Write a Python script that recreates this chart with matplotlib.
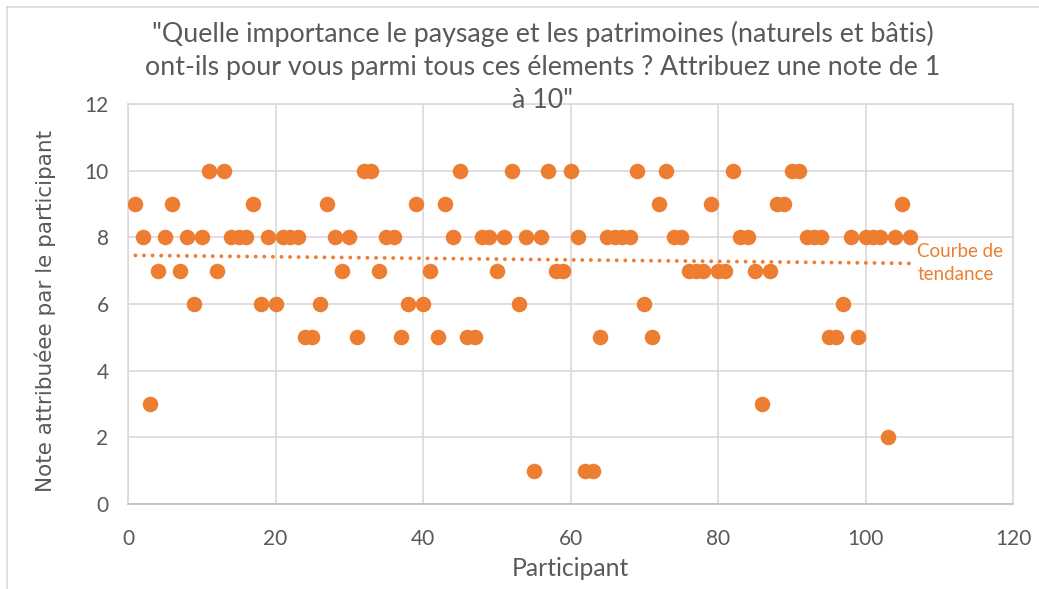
import numpy as np
import matplotlib
matplotlib.use("Agg")
import matplotlib.pyplot as plt
from matplotlib.lines import Line2D

participants = list(range(1, 107))
notes = [9, 8, 3, 7, 8, 9, 7, 8, 6, 8,
         10, 7, 10, 8, 8, 8, 9, 6, 8, 6,
         8, 8, 8, 5, 5, 6, 9, 8, 7, 8,
         5, 10, 10, 7, 8, 8, 5, 6, 9, 6,
         7, 5, 9, 8, 10, 5, 5, 8, 8, 7,
         8, 10, 6, 8, 1, 8, 10, 7, 7, 10,
         8, 1, 1, 5, 8, 8, 8, 8, 10, 6,
         5, 9, 10, 8, 8, 7, 7, 7, 9, 7,
         7, 10, 8, 8, 7, 3, 7, 9, 9, 10,
         10, 8, 8, 8, 5, 5, 6, 8, 5, 8,
         8, 8, 2, 8, 9, 8]

title = "\"Quelle importance le paysage et les patrimoines (naturels et bâtis)\nont-ils pour vous parmi tous ces élements ? Attribuez une note de 1\nà 10\""
xlabel = "Participant"
ylabel = "Note attribuéee par le participant"
trend_label = "Courbe de\ntendance"
xticks = [0, 20, 40, 60, 80, 100, 120]
yticks = [0, 2, 4, 6, 8, 10, 12]

ORANGE = "#ED7D31"
GRAY_TXT = "#595959"
GRID = "#D9D9D9"

W, H = 1039, 589
fig = plt.figure(figsize=(W / 100, H / 100), dpi=100)
ax = fig.add_axes([128 / W, 1 - 504 / H, (1013 - 128) / W, (504 - 104) / H])

x = np.array(participants)
y = np.array(notes)
ax.scatter(x, y, s=125, color=ORANGE, zorder=3, linewidths=0)

coef = np.polyfit(x, y, 1)
xt = np.array([x.min(), x.max()])
ax.plot(xt, np.polyval(coef, xt), color=ORANGE, linestyle=(0, (0.01, 2.2)),
        linewidth=2.8, zorder=2, dash_capstyle="round", solid_capstyle="round")
ax.text(107, 7.22, trend_label, color=ORANGE, fontsize=13.5, family="Lato",
        va="center", ha="left", linespacing=1.45)

ax.set_xlim(0, 120)
ax.set_ylim(0, 12)
ax.set_xticks(xticks)
ax.set_yticks(yticks)
ax.grid(True, color=GRID, linewidth=1.2, zorder=0)
ax.set_axisbelow(True)
for side in ["top", "right", "left"]:
    ax.spines[side].set_color(GRID)
    ax.spines[side].set_linewidth(1.2)
ax.spines["bottom"].set_color("#BFBFBF")
ax.spines["bottom"].set_linewidth(1.2)
ax.tick_params(length=0, labelsize=15, labelcolor=GRAY_TXT)
for lab in ax.get_xticklabels() + ax.get_yticklabels():
    lab.set_family("Lato")
ax.tick_params(axis="y", pad=14)
ax.tick_params(axis="x", pad=18)

ax.set_xlabel(xlabel, fontsize=17.8, color=GRAY_TXT, family="Lato", labelpad=6)
fig.text(45 / W, 1 - 311 / H, ylabel, rotation=90, fontsize=15.5,
         color=GRAY_TXT, family="DejaVu Sans", ha="center", va="center")

fig.text(543 / W, 1 - 67 / H, title, fontsize=19.3, color=GRAY_TXT,
         family="Lato", ha="center", va="center", linespacing=1.38)

# chart area border
fig.add_artist(Line2D([7 / W, 7 / W], [0, 1 - 7 / H], transform=fig.transFigure,
                      color=GRID, linewidth=1.2))
fig.add_artist(Line2D([7 / W, 1], [1 - 7 / H, 1 - 7 / H], transform=fig.transFigure,
                      color=GRID, linewidth=1.2))

fig.savefig("out.png", dpi=100)
